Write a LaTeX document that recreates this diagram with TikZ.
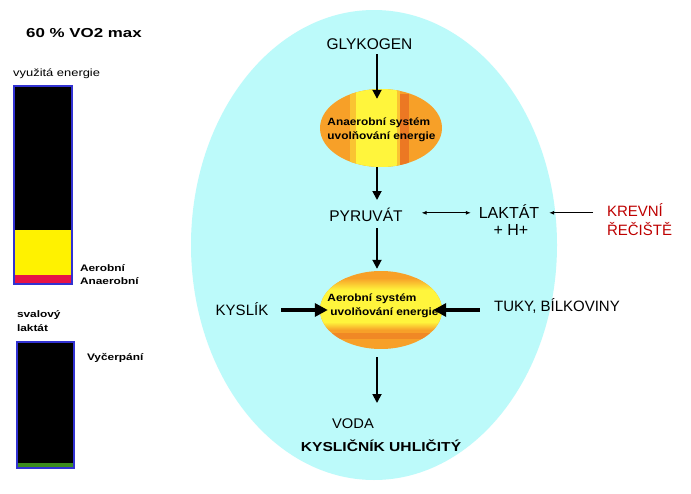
\documentclass[tikz,border=0pt]{standalone}
\usepackage{fontspec}
\setmainfont{Liberation Sans}
\usetikzlibrary{shapes.geometric,arrows.meta}
\definecolor{cyanbg}{RGB}{188,250,250}
\definecolor{orA}{RGB}{247,160,40}
\definecolor{orB}{RGB}{250,196,50}
\definecolor{orC}{RGB}{236,120,35}
\definecolor{yelA}{RGB}{255,245,60}
\definecolor{barblue}{RGB}{50,50,210}
\definecolor{barred}{RGB}{230,20,70}
\definecolor{bargreen}{RGB}{60,140,30}
\definecolor{krevred}{RGB}{190,0,0}
\newcommand\xstretch[2]{\scalebox{#1}[1]{#2}}
\begin{document}
\begin{tikzpicture}[x=1pt,y=-1pt,
  lbl/.style={inner sep=0pt, outer sep=0pt, anchor=base, text height=11pt, text depth=0pt, font=\fontsize{15.5}{17}\selectfont},
  lblb/.style={lbl, font=\bfseries\fontsize{13}{15}\selectfont},
  sm/.style={inner sep=0pt, outer sep=0pt, anchor=base west, font=\bfseries\fontsize{9.5}{11}\selectfont},
  eltext/.style={inner sep=0pt, align=left, font=\bfseries\fontsize{10.5}{13.5}\selectfont},
  elshape/.style={ellipse, minimum width=122pt, minimum height=78pt, inner sep=0pt},
  bar/.style={draw=barblue, line width=1.1pt},
  varrow/.style={line width=1.8pt, -{Triangle[width=9pt,length=9pt]}},
  fatarrow/.style={line width=4pt, -{Triangle[width=13pt,length=13pt]}},
  thinarrow/.style={line width=0.8pt, -{Latex[length=5pt,width=4pt]}},
  thinboth/.style={line width=0.8pt, {Latex[length=5pt,width=4pt]}-{Latex[length=5pt,width=4pt]}}
]
\useasboundingbox (0,0) rectangle (691,493);
\fill[white] (0,0) rectangle (691,493);

% big background ellipse
\fill[cyanbg] (374,245) ellipse [x radius=183pt, y radius=235pt];

% left bars
\fill[black] (14,86) rectangle (72,230);
\fill[yellow] (14,230) rectangle (72,275);
\fill[barred] (14,275) rectangle (72,284);
\draw[bar] (14,86) rectangle (72,284);

\fill[black] (17,342) rectangle (74,463);
\fill[bargreen] (17,463) rectangle (74,468);
\draw[bar] (17,342) rectangle (74,468);

% left texts
\node[inner sep=0pt, anchor=base west, font=\bfseries\fontsize{13}{15}\selectfont] (title) at (26,37.3) {\xstretch{1.3}{60 \% VO2 max}};
\node[inner sep=0pt, anchor=base west, font=\fontsize{10.5}{12}\selectfont] (vyuz) at (13,76.5) {\xstretch{1.23}{využitá energie}};
\node[sm] (aerob) at (80,271.7) {\xstretch{1.25}{Aerobní}};
\node[sm] (anaerob) at (80,284.3) {\xstretch{1.25}{Anaerobní}};
\node[sm] (sval) at (17,317) {\xstretch{1.25}{svalový}};
\node[sm] (lakt) at (17,331) {\xstretch{1.25}{laktát}};
\node[sm] (vycer) at (87,360) {\xstretch{1.25}{Vyčerpání}};

% anaerobic ellipse fill
\begin{scope}
\clip (381,128) ellipse [x radius=61pt, y radius=39pt];
\fill[orA] (320,89) rectangle (442,167);
\fill[orB] (350,89) rectangle (356,167);
\fill[yelA] (356,89) rectangle (397,167);
\fill[orB] (397,89) rectangle (400,167);
\fill[orC] (400,94) rectangle (409,167);
\end{scope}
\node[elshape] (anaer) at (381,128) {};
\node[eltext] (anaertxt) at (381.5,130) {\xstretch{1.13}{Anaerobní systém}\\\xstretch{1.13}{uvolňování energie}};

% aerobic ellipse fill
\begin{scope}
\clip (381,310) ellipse [x radius=61pt, y radius=39pt];
\fill[orA] (320,271) rectangle (442,349);
\shade[top color=orA, bottom color=yelA] (320,278) rectangle (442,290);
\fill[yelA] (320,290) rectangle (442,322);
\shade[top color=yelA, bottom color=orA] (320,322) rectangle (442,330);
\fill[orC, opacity=0.6] (320,333) rectangle (442,339);
\end{scope}
\node[elshape] (aer) at (381,310) {};
\node[eltext] (aertxt) at (383,306) {\xstretch{1.13}{Aerobní systém}\\\hspace*{3pt}\xstretch{1.13}{uvolňování energie}};

% central labels
\coordinate (ax) at (377,0);
\node[lbl] (glyk) at (369.5,49) {GLYKOGEN};
\node[lbl] (pyr) at (366,221) {PYRUVÁT};
\node[lbl, font=\fontsize{16}{18}\selectfont] (lak) at (509,218.3) {LAKTÁT};
\node[lbl, font=\fontsize{16}{18}\selectfont] (lakh) at (511,235) {+ H+};
\node[lbl, anchor=base west, text=krevred, font=\fontsize{15}{17}\selectfont] (krev) at (607,216.7) {KREVNÍ};
\node[lbl, anchor=base west, text=krevred, font=\fontsize{15}{17}\selectfont] (krev2) at (607,235.7) {ŘEČIŠTĚ};
\node[lbl, font=\fontsize{15}{17}\selectfont] (kys) at (242,315) {KYSLÍK};
\node[lbl, font=\fontsize{15}{17}\selectfont] (tuky) at (557,311.7) {TUKY, BÍLKOVINY};
\node[lbl, font=\fontsize{14}{16}\selectfont] (voda) at (353,428) {\xstretch{1.05}{VODA}};
\node[lblb] (co2) at (381,451.7) {\xstretch{1.2}{KYSLIČNÍK UHLIČITÝ}};

% vertical arrows
\draw[varrow, shorten <=5pt, shorten >=-10pt] (glyk.south -| ax) -- (anaer.north -| ax);
\draw[varrow, shorten <=0pt, shorten >=10pt] (anaer.south -| ax) -- (pyr.north -| ax);
\draw[varrow, shorten <=7pt, shorten >=2pt] (pyr.south -| ax) -- (aer.north -| ax);
\draw[varrow, shorten <=8pt, shorten >=14pt] (aer.south -| ax) -- (voda.north -| ax);

% horizontal arrows
\draw[fatarrow, shorten <=13pt, shorten >=-8pt] (kys.east |- aer) -- (aer.west);
\draw[fatarrow, shorten <=14.5pt, shorten >=-9pt] (tuky.west |- aer) -- (aer.east);
\draw[thinboth, shorten <=19pt, shorten >=8pt] (pyr.east |- lak) -- (lak.west);
\draw[thinarrow, shorten <=14pt, shorten >=10pt] (krev.west |- lak) -- (lak.east);
\end{tikzpicture}
\end{document}
